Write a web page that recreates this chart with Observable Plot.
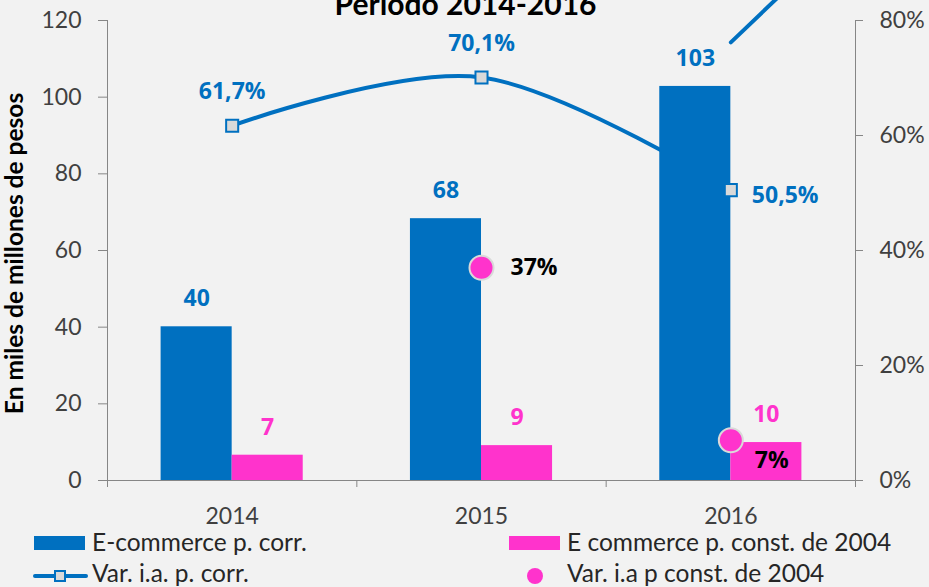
<!DOCTYPE html>
<html><head><meta charset="utf-8">
<script src="https://cdn.jsdelivr.net/npm/d3@7"></script>
<script src="https://cdn.jsdelivr.net/npm/@observablehq/plot@0.6"></script>
<style>
html,body{margin:0;padding:0;background:#f2f2f2;}
#wrap{position:relative;width:929px;height:587px;overflow:hidden;font-family:Lato,sans-serif;}
#chart svg{display:block;}
.lg{position:absolute;font-size:24.5px;line-height:24px;color:#262626;white-space:nowrap;}
.sw{position:absolute;}
</style></head>
<body><div id="wrap"><div id="chart"></div><div id="legend"></div></div>
<script>
// ---- data ----
const years = ["2014", "2015", "2016"];
const ecomCorr = [40.1, 68.3, 102.8];      // E-commerce p. corr. (miles de millones)
const ecomConst = [6.6, 9.1, 9.9];         // E commerce p. const. de 2004
const varCorr = [61.7, 70.1, 50.5];        // Var. i.a. p. corr. (%)
const varConst = [null, 37, 7];            // Var. i.a p const. de 2004 (%)
const leftTicks = [0, 20, 40, 60, 80, 100, 120];
const rightTicks = [0, 20, 40, 60, 80];    // %
const arrowX = [2.0, 2.28];                // decorative arrow segment (category index)
const arrowPct = [76.2, 87.8];             // decorative arrow segment (%)
const title = "Período 2014-2016";
const yTitle = "En miles de millones de pesos";
const legendLabels = ["E-commerce p. corr.", "E commerce p. const. de 2004", "Var. i.a. p. corr.", "Var. i.a p const. de 2004"];

// ---- style constants ----
const BLUE = "#0070c0", PINK = "#ff33cc", AX = "#868686", TXT = "#404040";
const K = 120 / 80;     // right-axis (%) to left-axis units
const W = 0.285;        // bar width in category units
const idx = years.map((_, i) => i);
const fmtPct = v => d3.format(".1f")(v).replace(".", ",") + "%";
const LBL = {fontFamily: "Open Sans, sans-serif", fontWeight: "bold", fontSize: 23, lineAnchor: "middle"};

const plot = Plot.plot({
  width: 929, height: 528,
  marginLeft: 107, marginRight: 74, marginTop: 20, marginBottom: 48,
  x: {type: "linear", domain: [-0.5, 2.5]},
  y: {domain: [0, 120]},
  style: {background: "transparent", fontFamily: "Lato, sans-serif", fontSize: "23px", color: TXT, overflow: "hidden"},
  marks: [
    Plot.axisY({ticks: leftTicks, tickSize: 9, tickPadding: 17, stroke: AX, fill: TXT, label: null, fontSize: 23}),
    Plot.axisY({anchor: "right", ticks: rightTicks.map(v => v * K), tickFormat: v => Math.round(v / K) + "%",
      tickSize: 7, tickPadding: 17, stroke: AX, fill: TXT, label: null, fontSize: 23}),
    Plot.axisX({ticks: [-0.5, 0.5, 1.5, 2.5], tickFormat: () => "", tickSize: 7, stroke: AX, label: null}),
    Plot.axisX({ticks: idx, tickFormat: i => years[i], tickSize: 0, tickPadding: 27, fill: TXT, label: null, fontSize: 23}),
    Plot.ruleX([-0.5, 2.5], {y1: 0, y2: 120, stroke: AX}),
    Plot.ruleY([0], {x1: -0.5, x2: 2.5, stroke: AX}),
    // smoothed line behind bars
    Plot.line(idx, {x: i => i, y: i => varCorr[i] * K, curve: "cardinal", stroke: BLUE, strokeWidth: 4}),
    // decorative arrow segment
    Plot.line(arrowX.map((x, i) => ({x, y: arrowPct[i] * K})), {x: "x", y: "y", stroke: BLUE, strokeWidth: 4}),
    // bars
    Plot.rectY(idx, {x1: i => i - W, x2: i => i, y: i => ecomCorr[i], fill: BLUE}),
    Plot.rectY(idx, {x1: i => i, x2: i => i + W, y: i => ecomConst[i], fill: PINK}),
    // bar labels
    Plot.text(idx, {x: i => i - W / 2, y: i => ecomCorr[i], text: i => d3.format(".0f")(ecomCorr[i]), dy: -28, fill: BLUE, ...LBL}),
    Plot.text(idx, {x: i => i + W / 2, y: i => ecomConst[i], text: i => d3.format(".0f")(ecomConst[i]), dy: -28, fill: PINK, ...LBL}),
    // line markers + labels
    Plot.dot(idx, {x: i => i, y: i => varCorr[i] * K, symbol: "square", r: 6.8, fill: "#d9d9d9", stroke: BLUE, strokeWidth: 2}),
    Plot.text(idx.filter(i => i < 2), {x: i => i, y: i => varCorr[i] * K, text: i => fmtPct(varCorr[i]), dy: -34, fill: BLUE, ...LBL}),
    Plot.text(idx.filter(i => i === 2), {x: i => i, y: i => varCorr[i] * K, text: i => fmtPct(varCorr[i]), dx: 21, dy: 5, textAnchor: "start", fill: BLUE, ...LBL}),
    // constant-price variation dots + labels
    Plot.dot(idx.filter(i => varConst[i] != null), {x: i => i, y: i => varConst[i] * K, r: 12, fill: PINK, stroke: "#d9d9d9", strokeWidth: 2}),
    Plot.text(idx.filter(i => i === 1), {x: i => i, y: i => varConst[i] * K, text: i => varConst[i] + "%", dx: 29, textAnchor: "start", fill: "black", ...LBL}),
    Plot.text(idx.filter(i => i === 2), {x: i => i, y: i => varConst[i] * K, text: i => varConst[i] + "%", dx: 24, dy: 20, textAnchor: "start", fill: "black", ...LBL}),
    // titles
    Plot.text([title], {frameAnchor: "top", dx: -16, dy: -15, lineAnchor: "middle", fontWeight: "bold", fontSize: 30, fill: "black"}),
    Plot.text([yTitle], {frameAnchor: "left", dx: -92, dy: 3, rotate: -90, textAnchor: "middle", lineAnchor: "middle", fontWeight: "bold", fontSize: 24.5, fill: "black"})
  ]
});
document.getElementById("chart").appendChild(plot);

// ---- legend ----
const lg = document.getElementById("legend");
function add(html) { lg.insertAdjacentHTML("beforeend", html); }
add(`<div class="sw" style="left:34px;top:536px;width:51px;height:14px;background:${BLUE}"></div>`);
add(`<div class="lg" style="left:92px;top:530px">${legendLabels[0]}</div>`);
add(`<div class="sw" style="left:509px;top:536px;width:51px;height:14px;background:${PINK}"></div>`);
add(`<div class="lg" style="left:567px;top:530px">${legendLabels[1]}</div>`);
add(`<div class="sw" style="left:33px;top:574px;width:55px;height:4px;background:${BLUE};border-radius:2px"></div>`);
add(`<div class="sw" style="left:54px;top:570px;width:12px;height:12px;background:#d9d9d9;border:2px solid ${BLUE};box-sizing:border-box"></div>`);
add(`<div class="lg" style="left:92px;top:561px">${legendLabels[2]}</div>`);
add(`<div class="sw" style="left:527px;top:568px;width:16px;height:16px;border-radius:50%;background:${PINK}"></div>`);
add(`<div class="lg" style="left:567px;top:561px">${legendLabels[3]}</div>`);
</script></body></html>
